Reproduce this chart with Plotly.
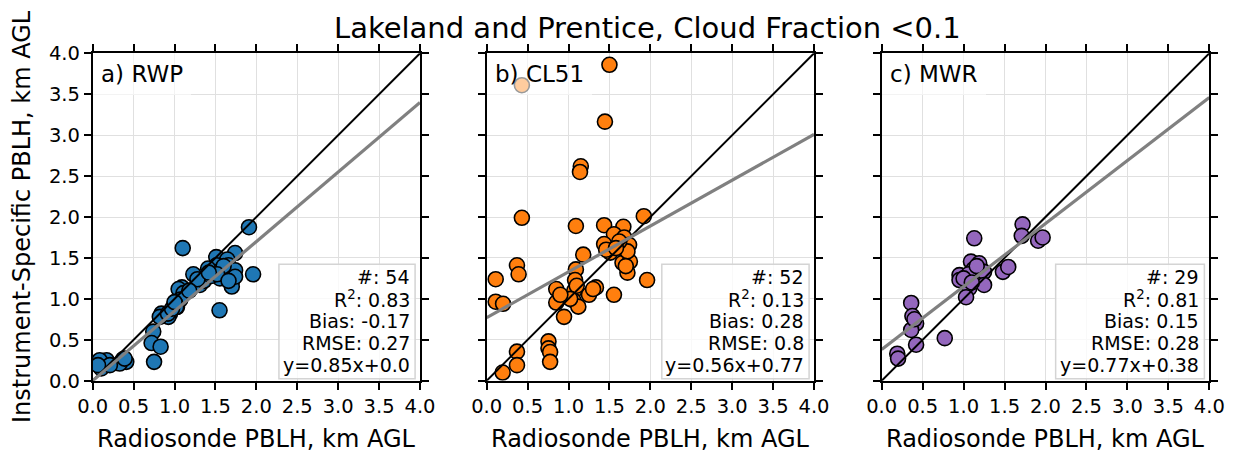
import plotly.graph_objects as go

# Radiosonde vs instrument boundary-layer heights (km AGL)
rwp_x = [1.91, 1.10, 1.96, 1.55, 1.74, 1.51, 1.645, 1.66, 1.74, 1.515, 1.47, 1.41, 1.70, 1.70, 1.74,
         1.555, 1.35, 1.23, 1.31, 1.36, 1.09, 1.05, 1.11, 1.07, 1.005, 1.03, 0.945, 0.925, 0.84, 0.82,
         0.92, 1.02, 0.74, 0.72, 0.83, 0.75, 0.37, 0.41, 0.33, 0.17, 0.085, 0.105, 0.21, 0.065, 1.45,
         1.60, 1.28, 1.18, 1.52, 1.66, 1.42, 0.97, 1.00, 0.39]
rwp_y = [1.875, 1.62, 1.30, 0.86, 1.56, 1.51, 1.48, 1.41, 1.35, 1.41, 1.33, 1.37, 1.21, 1.15, 1.27,
         1.25, 1.27, 1.30, 1.17, 1.22, 1.14, 1.12, 1.07, 0.99, 0.95, 0.90, 0.82, 0.78, 0.82, 0.78,
         0.82, 0.90, 0.60, 0.46, 0.415, 0.23, 0.26, 0.23, 0.21, 0.25, 0.25, 0.15, 0.19, 0.19, 1.28,
         1.40, 1.24, 1.10, 1.30, 1.22, 1.32, 0.88, 0.96, 0.27]

cl51_x = [1.50, 0.43, 1.445, 1.15, 1.14, 0.43, 1.92, 1.09, 1.435, 1.67, 1.555, 1.68, 1.435, 1.74,
          1.51, 1.18, 1.66, 1.75, 1.72, 1.09, 1.08, 1.96, 1.335, 0.85, 1.07, 1.25, 1.555, 0.85, 1.06,
          1.12, 0.945, 0.37, 0.39, 0.11, 0.11, 0.20, 0.37, 0.37, 0.195, 0.755, 0.755, 0.775, 0.775,
          1.30, 1.46, 1.72, 1.62, 1.10, 1.02, 1.58, 0.90, 1.70]
cl51_y = [3.86, 3.61, 3.165, 2.62, 2.55, 1.99, 2.01, 1.89, 1.90, 1.88, 1.79, 1.75, 1.67, 1.66,
          1.565, 1.54, 1.44, 1.455, 1.32, 1.36, 1.23, 1.23, 1.14, 1.12, 1.10, 1.05, 1.05, 0.955, 0.98,
          0.905, 0.78, 1.41, 1.30, 1.24, 0.965, 0.94, 0.355, 0.19, 0.10, 0.48, 0.395, 0.35, 0.23,
          1.12, 1.60, 1.58, 1.70, 1.16, 1.00, 1.62, 1.05, 1.40]

mwr_x = [1.72, 1.71, 1.91, 1.965, 1.13, 1.09, 1.19, 1.12, 1.25, 0.95, 0.95, 1.06, 1.48, 1.545, 1.25,
         1.07, 1.03, 0.36, 0.375, 0.42, 0.36, 0.42, 0.77, 0.19, 0.20, 1.16, 1.00, 1.10, 0.40]
mwr_y = [1.91, 1.77, 1.71, 1.75, 1.74, 1.455, 1.435, 1.36, 1.33, 1.29, 1.23, 1.30, 1.33, 1.39, 1.17,
         1.13, 1.02, 0.95, 0.79, 0.70, 0.62, 0.44, 0.52, 0.33, 0.27, 1.40, 1.25, 1.20, 0.75]

panel_names = ["a) RWP", "b) CL51", "c) MWR"]
colors = ["#1f77b4", "#ff7f0e", "#9467bd"]
counts = [54, 52, 29]
r2 = ["0.83", "0.13", "0.81"]
bias = ["-0.17", "0.28", "0.15"]
rmse = ["0.27", "0.8", "0.28"]
slopes = [0.85, 0.56, 0.77]
intercepts = [0.0, 0.77, 0.38]
fit_labels = ["y=0.85x+0.0", "y=0.56x+0.77", "y=0.77x+0.38"]

xs = [rwp_x, cl51_x, mwr_x]
ys = [rwp_y, cl51_y, mwr_y]

tick_vals = [0.0, 0.5, 1.0, 1.5, 2.0, 2.5, 3.0, 3.5, 4.0]
tick_text = ["0.0", "0.5", "1.0", "1.5", "2.0", "2.5", "3.0", "3.5", "4.0"]
axis_min, axis_max = 0.0, 4.0

FONT = "DejaVu Sans"
W, H = 1234, 452

x_domains = [[92.7 / W, 420 / W], [486.7 / W, 814 / W], [881.7 / W, 1209.3 / W]]
y_domain = [1 - 380.7 / H, 1 - 53.3 / H]
stats_box_left = [0.569, 0.535, 0.531]

fig = go.Figure()
annotations = []
shapes = []

for i in range(3):
    xa = "x" if i == 0 else f"x{i + 1}"
    ya = "y" if i == 0 else f"y{i + 1}"
    # scatter of matched heights
    fig.add_trace(go.Scatter(
        x=xs[i], y=ys[i], mode="markers", xaxis=xa, yaxis=ya, showlegend=False,
        marker=dict(size=15, color=colors[i], line=dict(color="black", width=1.6)),
    ))
    # 1:1 reference line
    fig.add_trace(go.Scatter(
        x=[axis_min, axis_max], y=[axis_min, axis_max], mode="lines", xaxis=xa, yaxis=ya,
        showlegend=False, line=dict(color="black", width=2),
    ))
    # least-squares fit
    fit_y = [slopes[i] * v + intercepts[i] for v in (axis_min, axis_max)]
    fig.add_trace(go.Scatter(
        x=[axis_min, axis_max], y=fit_y, mode="lines", xaxis=xa, yaxis=ya,
        showlegend=False, line=dict(color="#808080", width=3.2),
    ))

    axis_common = dict(
        range=[axis_min, axis_max], tickvals=tick_vals, ticktext=tick_text,
        showgrid=True, gridcolor="#e0e0e0", gridwidth=1, zeroline=False,
        showline=True, linecolor="black", linewidth=1.8, mirror="allticks",
        ticks="outside", ticklen=7, tickwidth=1.5, tickcolor="black",
        tickfont=dict(family=FONT, size=19.5, color="black"), automargin=False,
    )
    fig.layout[f"xaxis{'' if i == 0 else i + 1}"] = dict(
        axis_common, domain=x_domains[i], anchor=ya)
    fig.layout[f"yaxis{'' if i == 0 else i + 1}"] = dict(
        axis_common, domain=y_domain, anchor=xa, showticklabels=(i == 0))

    xd = f"{xa} domain"
    yd = f"{ya} domain"

    # panel label
    annotations.append(dict(
        xref=xd, yref=yd, x=0.0, y=1.0, xanchor="left", yanchor="top",
        text=panel_names[i], showarrow=False, align="left",
        font=dict(family=FONT, size=23, color="black"),
        bgcolor="rgba(255,255,255,0.6)", borderpad=8, borderwidth=0,
    ))

    # statistics box
    shapes.append(dict(
        type="rect", xref=xd, yref=yd, x0=stats_box_left[i], x1=0.985, y0=0.006, y1=0.356,
        fillcolor="rgba(255,255,255,0.8)", line=dict(color="#d4d4d4", width=1.5), layer="above",
    ))
    stat_lines = [
        f"#: {counts[i]}",
        f"R<sup>2</sup>: {r2[i]}",
        f"Bias: {bias[i]}",
        f"RMSE: {rmse[i]}",
        fit_labels[i],
    ]
    for k, line in enumerate(stat_lines):
        annotations.append(dict(
            xref=xd, yref=yd, x=0.976, y=0.318 - 0.0675 * k, xanchor="right", yanchor="middle",
            text=line, showarrow=False, font=dict(family=FONT, size=19, color="black"),
        ))

    # x-axis title
    annotations.append(dict(
        xref="paper", yref="paper", x=sum(x_domains[i]) / 2, y=1 - 439 / H,
        xanchor="center", yanchor="middle", text="Radiosonde PBLH, km AGL", showarrow=False,
        font=dict(family=FONT, size=24, color="black"),
    ))

# shared y-axis title
annotations.append(dict(
    xref="paper", yref="paper", x=22 / W, y=1 - 217 / H, xanchor="center", yanchor="middle",
    text="Instrument-Specific PBLH, km AGL", textangle=-90, showarrow=False,
    font=dict(family=FONT, size=24, color="black"),
))

# figure title
annotations.append(dict(
    xref="paper", yref="paper", x=648 / W, y=1 - 28 / H, xanchor="center", yanchor="middle",
    text="Lakeland and Prentice, Cloud Fraction <0.1", showarrow=False,
    font=dict(family=FONT, size=29, color="black"),
))

fig.update_layout(
    width=W, height=H, autosize=False,
    margin=dict(l=0, r=0, t=0, b=0),
    paper_bgcolor="white", plot_bgcolor="white",
    annotations=annotations, shapes=shapes,
    font=dict(family=FONT, color="black"),
)

fig.write_html("out.html")
